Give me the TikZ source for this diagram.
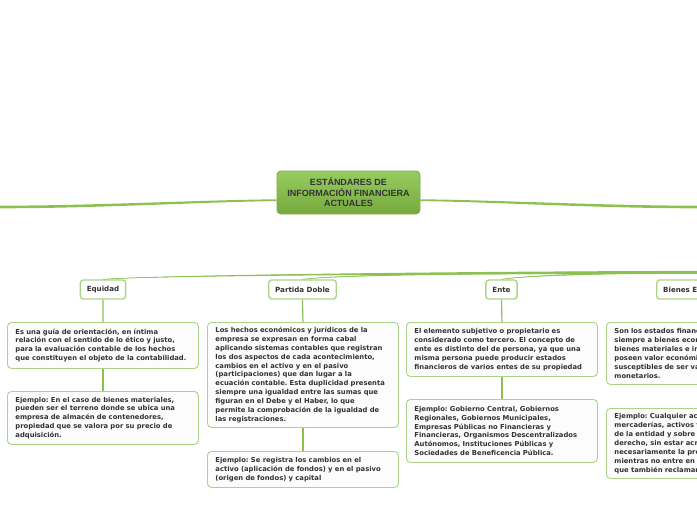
\documentclass[tikz,border=0pt]{standalone}
\usepackage{fontspec}
\setmainfont{DejaVu Sans}
\newfontfamily\hdfont{Liberation Sans}
\usetikzlibrary{calc}
\definecolor{lg}{HTML}{8CC152}
\definecolor{bordg}{HTML}{ABD488}
\definecolor{txt}{HTML}{333333}
\definecolor{ctop}{HTML}{97CC60}
\definecolor{cbot}{HTML}{76A93E}
\definecolor{cdraw}{HTML}{7DAF45}
\definecolor{boxfill}{HTML}{FCFCFC}
\tikzset{
 box/.style={draw=bordg, line width=0.9pt, rounded corners=4pt, fill=boxfill, anchor=north west, align=left, inner xsep=8pt, inner ysep=3pt, text=txt, font=\frenchspacing\bfseries\fontsize{6.8}{8.9}\selectfont, text width=175pt, minimum height=#1},
 topic/.style={draw=bordg, line width=1.4pt, rounded corners=3pt, fill=white, minimum height=19pt, inner xsep=6.5pt, font=\bfseries\fontsize{7.1}{8}\selectfont, text=txt},
 central/.style={draw=cdraw, line width=0.9pt, rounded corners=4pt, top color=ctop, bottom color=cbot, minimum width=143pt, minimum height=43pt, inner sep=1pt, align=center, text=txt, font=\hdfont\bfseries\fontsize{9}{10.5}\selectfont},
 conn/.style={draw=lg, line width=1.2pt},
}
\begin{document}
\begin{tikzpicture}[x=1pt,y=-1pt]
\useasboundingbox (0,0) rectangle (697,520);
\clip (0,0) rectangle (697,520);
\fill[white] (0,0) rectangle (697,520);
\coordinate (lend) at (0,207);
\coordinate (rend) at (697,207);
\coordinate (hub) at (697,272.5);

% central
\node[central] (c) at (348.5,192.5) {ESTÁNDARES DE\\INFORMACIÓN FINANCIERA\\ACTUALES};

% side lines
\fill[lg] ($(c.west)+(0,6.8)$) .. controls (200,200) and (100,205.5) .. ($(lend)+(0,-1.3)$) -- ($(lend)+(0,1.3)$) .. controls (100,208.3) and (200,202) .. ($(c.west)+(0,8.6)$) -- cycle;
\fill[lg] ($(c.east)+(0,6.8)$) .. controls (497,200) and (597,205.5) .. ($(rend)+(0,-1.3)$) -- ($(rend)+(0,1.3)$) .. controls (597,208.3) and (497,202) .. ($(c.east)+(0,8.6)$) -- cycle;

% topics
\node[topic] (eq) at (103,289.5) {Equidad};
\node[topic] (pd) at (302.5,289.5) {Partida Doble};
\node[topic] (en) at (501.5,289.5) {Ente};
\node[topic, anchor=west] (bn) at (656,289.5) {Bienes Económicos};

% tapered trunk
\fill[lg] ($(hub)+(0,-1.6)$) .. controls (500,271.2) and (160,274.5) .. (eq.north) .. controls (160,275.5) and (500,273.8) .. ($(hub)+(0,1.4)$) -- cycle;
\draw[lg, line width=0.6pt] (hub) .. controls (500,272.5) and (160,275) .. (eq.north);
\fill[lg] ($(hub)+(0,-1.2)$) .. controls (520,271.8) and (340,274) .. (pd.north) .. controls (340,275) and (520,273.4) .. ($(hub)+(0,1.2)$) -- cycle;
\draw[lg, line width=0.6pt] (hub) .. controls (520,272.6) and (340,274.5) .. (pd.north);
\fill[lg] ($(hub)+(0,-1)$) .. controls (620,272) and (530,274.5) .. (en.north) .. controls (530,275.5) and (620,273.6) .. ($(hub)+(0,1)$) -- cycle;
\draw[lg, line width=0.6pt] (hub) .. controls (620,272.8) and (530,275) .. (en.north);
\draw[lg, line width=0.8pt] (hub) .. controls (700,273) and (705,276) .. (bn.north);

% column 1
\node[box=46pt] (e1) at (7,322) {Es una guía de orientación, en íntima\\relación con el sentido de lo ético y justo,\\para la evaluación contable de los hechos\\que constituyen el objeto de la contabilidad.};
\node[box=53pt] (e2) at (7,391) {Ejemplo: En el caso de bienes materiales,\\pueden ser el terreno donde se ubica una\\empresa de almacén de contenedores,\\propiedad que se valora por su precio de\\adquisición.};
\draw[conn] (eq.south) -- (e1.north);
\draw[conn] (e1.south) -- (e2.north);

% column 2
\node[box=105pt] (p1) at (207,322) {Los hechos económicos y jurídicos de la\\empresa se expresan en forma cabal\\aplicando sistemas contables que registran\\los dos aspectos de cada acontecimiento,\\cambios en el activo y en el pasivo\\(participaciones) que dan lugar a la\\ecuación contable. Esta duplicidad presenta\\siempre una igualdad entre las sumas que\\figuran en el Debe y el Haber, lo que\\permite la comprobación de la igualdad de\\las registraciones.};
\node[box=36pt] (p2) at (207,451) {Ejemplo: Se registra los cambios en el\\activo (aplicación de fondos) y en el pasivo\\(origen de fondos) y capital};
\draw[conn] (pd.south) -- (p1.north);
\draw[conn] (p1.south) -- (p2.north);

% column 3
\node[box=54pt] (n1) at (406,322) {El elemento subjetivo o propietario es\\considerado como tercero. El concepto de\\ente es distinto del de persona, ya que una\\misma persona puede producir estados\\financieros de varios entes de su propiedad};
\node[box=63pt] (n2) at (406,399) {Ejemplo: Gobierno Central, Gobiernos\\Regionales, Gobiernos Municipales,\\Empresas Públicas no Financieras y\\Financieras, Organismos Descentralizados\\Autónomos, Instituciones Públicas y\\Sociedades de Beneficencia Pública.};
\draw[conn] (en.south) -- (n1.north);
\draw[conn] (n1.south) -- (n2.north);

% column 4
\node[box=62pt] (b1) at (606,322) {Son los estados financieros\\siempre a bienes económicos,\\bienes materiales e inmateriales\\poseen valor económico\\susceptibles de ser valuados\\monetarios.};
\node[box=70pt] (b2) at (606,408) {Ejemplo: Cualquier activo,\\mercaderías, activos fijos\\de la entidad y sobre\\derecho, sin estar acreditado\\necesariamente la propiedad\\mientras no entre en\\que también reclaman};
\draw[conn] (bn.south) -- (b1.north);
\draw[conn] (b1.south) -- (b2.north);
\end{tikzpicture}
\end{document}
